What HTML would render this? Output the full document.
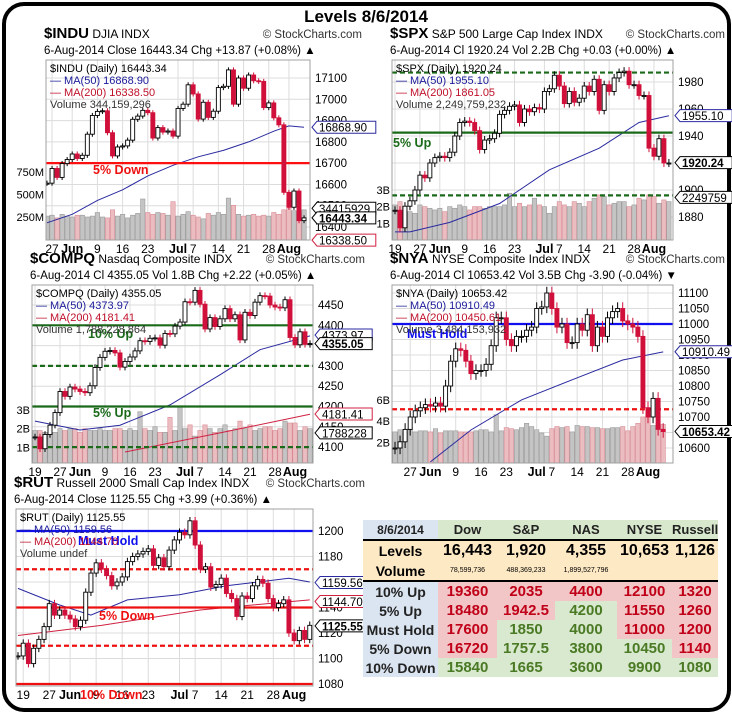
<!DOCTYPE html>
<html><head><meta charset="utf-8">
<style>
html,body{margin:0;padding:0;background:#fff;}
body{width:732px;height:714px;overflow:hidden;position:relative;font-family:"Liberation Sans",sans-serif;}
#frame{position:absolute;left:2px;top:2px;width:721px;height:702px;border:4px solid #000;border-radius:22px;}
#title{position:absolute;left:0;width:732px;top:7px;text-align:center;font-weight:bold;font-size:17px;}
svg{position:absolute;left:0;top:0;}
#tbl{position:absolute;left:363px;top:520px;width:355px;table-layout:fixed;border-collapse:collapse;font-weight:bold;font-family:"Liberation Sans",sans-serif;}
#tbl td{padding:0;text-align:center;font-size:14px;height:19px;overflow:hidden;white-space:nowrap;}
.lb{background:#dbe5f1;color:#222;}
.hd{background:#d8e8cc;color:#222;font-size:13px!important;}
.yl{background:#fde9c4;}
.lv{font-size:16px!important;}
.r{background:#f2c6c6;color:#c00018;font-size:15px!important;}
.g{background:#d9e9cf;color:#4a7a24;font-size:15px!important;}
</style></head><body>
<div id="frame"></div>
<div id="title">Levels 8/6/2014</div>
<svg id="sv" width="732" height="714"></svg>
<table id="tbl">
<colgroup><col style="width:75px"><col style="width:59px"><col style="width:58px"><col style="width:62px"><col style="width:55px"><col style="width:46px"></colgroup>
<tr><td class="lb" style="font-size:12px;height:16px">8/6/2014</td><td class="hd">Dow</td><td class="hd">S&amp;P</td><td class="hd">NAS</td><td class="hd">NYSE</td><td class="hd">Russell</td></tr>
<tr style="border-top:2px solid #000"><td class="yl" style="font-size:14px;height:20px">Levels</td><td class="yl lv">16,443</td><td class="yl lv">1,920</td><td class="yl lv">4,355</td><td class="yl lv">10,653</td><td class="yl lv">1,126</td></tr>
<tr style="border-bottom:2px solid #000"><td class="yl" style="font-size:14px;height:15px">Volume</td><td class="yl" style="font-size:7px;font-weight:normal">78,599,736</td><td class="yl" style="font-size:7px;font-weight:normal">488,369,233</td><td class="yl" style="font-size:7px;font-weight:normal">1,899,527,796</td><td class="yl"></td><td class="yl"></td></tr>
<tr><td class="lb">10% Up</td><td class="r">19360</td><td class="r">2035</td><td class="r">4400</td><td class="r">12100</td><td class="r">1320</td></tr>
<tr><td class="lb">5% Up</td><td class="r">18480</td><td class="r">1942.5</td><td class="g">4200</td><td class="r">11550</td><td class="r">1260</td></tr>
<tr><td class="lb">Must Hold</td><td class="r">17600</td><td class="g">1850</td><td class="g">4000</td><td class="r">11000</td><td class="r">1200</td></tr>
<tr><td class="lb">5% Down</td><td class="r">16720</td><td class="g">1757.5</td><td class="g">3800</td><td class="g">10450</td><td class="r">1140</td></tr>
<tr><td class="lb">10% Down</td><td class="g">15840</td><td class="g">1665</td><td class="g">3600</td><td class="g">9900</td><td class="g">1080</td></tr>
</table>
<script>
const dateLabels = ["19","27","Jun","9","16","23","Jul","7","14","21","28","Aug"];
const dateLabelIdx = [1,6,10,15,20,25,31,34,39,44,49,53];

const induClose = [16606,16675,16633,16698,16717,16743,16722,16737,16836,16924,16943,16946,16843,16734,16776,16781,16808,16906,16921,16948,16937,16818,16867,16846,16851,16827,16957,16977,17068,17025,16907,16986,16915,16944,17055,17061,17138,16977,17100,17052,17114,17087,17084,16961,16983,16913,16880,16563,16493,16569,16430,16443];
const induVol = [260,270,240,280,260,250,270,270,250,260,300,250,240,330,260,280,240,270,290,450,300,280,300,290,270,420,260,280,310,270,250,230,290,270,300,280,460,380,280,260,270,280,260,270,260,300,280,330,440,320,300,330];
const induMa = [16420,16460,16525,16575,16640,16690,16730,16760,16800,16850,16875,16869];
const induMaIdx = [0,5,10,15,20,25,30,35,40,45,48,51];

const spxClose = [1885,1872,1888,1892,1900,1911,1909,1920,1924,1925,1924,1928,1940,1950,1951,1950,1944,1930,1937,1938,1942,1956,1959,1962,1963,1950,1960,1958,1961,1960,1973,1975,1985,1977,1964,1973,1965,1968,1977,1973,1982,1959,1978,1973,1983,1987,1988,1978,1978,1970,1970,1931,1925,1938,1920,1920];
const spxVol = [2.1,2.3,1.9,1.7,1.6,2.1,2.0,1.9,1.8,1.9,1.7,2.0,1.9,2.1,2.0,1.8,2.0,2.0,1.9,2.0,2.0,2.0,2.1,2.8,2.0,2.2,2.0,2.1,2.5,2.1,2.0,1.6,2.0,2.3,2.1,2.0,2.3,2.2,2.0,2.3,2.5,2.7,2.6,2.1,2.2,2.3,2.3,2.0,2.1,2.5,2.4,2.7,2.6,2.2,2.4,2.3];
const spxMa = [1869,1869,1876,1890,1915,1931,1950,1955];
const spxMaIdx = [0,3,11,21,31,41,49,55];

const compClose = [4125,4096,4131,4154,4185,4237,4225,4248,4243,4237,4234,4251,4296,4321,4336,4338,4332,4297,4311,4322,4337,4362,4360,4368,4369,4351,4380,4379,4398,4408,4458,4457,4486,4452,4391,4419,4397,4416,4441,4416,4426,4364,4432,4424,4457,4473,4472,4450,4445,4443,4463,4370,4352,4384,4353,4355];
const compVol = [1.9,1.9,1.8,1.9,1.8,2.0,1.9,2.0,2.0,1.8,2.0,1.9,1.9,2.0,1.9,1.9,2.0,2.0,1.9,2.0,1.9,2.9,2.0,1.9,2.1,1.8,1.8,2.6,1.9,3.2,2.0,2.2,1.6,1.9,2.2,2.0,1.8,2.0,2.2,1.9,2.0,2.4,2.0,2.2,1.9,2.0,2.1,2.1,1.9,2.0,2.4,2.3,2.3,1.9,2.1,2.0];
const compMa = [4164,4142,4154,4204,4278,4340,4374];
const compMaIdx = [0,9,17,27,37,45,55];
const compMa2 = [4088,4135,4181];
const compMa2Idx = [18,37,55];

const nyaClose = [10600,10620,10660,10700,10720,10730,10740,10735,10745,10735,10800,10880,10920,10915,10880,10840,10850,10850,10870,10930,11020,11020,10950,10930,10960,10960,10980,10990,11050,11055,11100,11050,10990,11000,10940,10940,11000,10980,11030,10930,10990,10960,11020,11040,11050,11010,11000,10990,10960,10730,10700,10760,10660,10653];
const nyaVol = [3.0,3.2,2.9,3.4,3.0,3.1,3.1,3.0,3.3,2.9,3.1,3.1,3.1,3.0,3.0,3.0,3.1,3.2,3.2,3.0,4.6,3.1,3.4,3.3,3.2,3.4,3.8,3.5,3.2,2.9,2.6,3.3,3.5,3.4,3.5,3.0,3.6,3.5,3.5,3.4,3.4,3.3,3.3,3.4,3.4,3.5,3.1,3.5,3.8,4.4,4.6,3.6,3.8,3.7];
const nyaMa = [10555,10658,10755,10820,10884,10910];
const nyaMaIdx = [7,15,25,35,45,53];

const rutClose = [1102,1112,1096,1108,1115,1125,1143,1134,1138,1134,1131,1125,1130,1152,1167,1175,1170,1165,1157,1160,1164,1176,1180,1182,1184,1186,1173,1179,1172,1185,1193,1199,1197,1208,1189,1170,1172,1156,1158,1163,1151,1147,1133,1149,1147,1157,1162,1159,1147,1140,1143,1146,1120,1114,1122,1115,1126];
const rutMa = [1155,1142,1134,1146,1150,1157,1163,1160];
const rutMaIdx = [0,8,14,21,31,40,52,56];
const rutMa2 = [1118,1126,1138,1142,1146];
const rutMa2Idx = [0,16,35,45,56];

const NS="http://www.w3.org/2000/svg";
const sv=document.getElementById('sv');
function mk(tag,attrs,parent){const e=document.createElementNS(NS,tag);for(const k in attrs)e.setAttribute(k,attrs[k]);(parent||sv).appendChild(e);return e;}
function txt(x,y,s,attrs,parent){const e=mk('text',Object.assign({x:x,y:y,'font-family':'Liberation Sans, sans-serif','font-size':11,fill:'#000'},attrs||{}),parent);e.textContent=s;return e;}

function drawChart(c){
  const g=mk('g',{});
  
  
  const yv=v=>c.y0+(c.v0-v)*c.k;
  const xi=i=>c.x0+(i)*c.dx;
  const clipId='clip-'+c.name;
  const cp=mk('clipPath',{id:clipId},g);mk('rect',{x:c.L,y:c.T,width:c.R-c.L,height:c.B-c.T},cp);
  mk('rect',{x:c.L,y:c.T,width:c.R-c.L,height:c.B-c.T,fill:'#fff',stroke:'#b0b0b0'},g);
  const inner=mk('g',{'clip-path':'url(#'+clipId+')'},g);
  for(const t of c.ticks){const y=yv(t);mk('line',{x1:c.L,x2:c.R,y1:y,y2:y,stroke:'#dcdcdc'},inner);
    const tl=txt(c.R+5,y+4,String(t),{'font-size':11.5},g);
    }
  dateLabelIdx.forEach((di,j)=>{const i=di-c.start;if(i<-0.5)return;const x=xi(i);if(x>c.R)return;
    mk('line',{x1:x,x2:x,y1:c.T,y2:c.B,stroke:'#dcdcdc'},inner);
    const bold=isNaN(+dateLabels[j]);
    const dl=txt(x,c.B+13,dateLabels[j],{'font-size':bold?12.5:12,'font-weight':bold?'bold':'normal','text-anchor':'middle'},g);
    });
  if(c.vol){const vy=v=>c.vz-v*c.vk;
    c.vol.forEach((v,i)=>{const up=i==0||c.close[i]>=c.close[i-1];const x=xi(i);
      const b=mk('rect',{x:x-2.2,y:vy(v),width:4.4,height:c.vz-vy(v)+5,fill:up?'#c4c4c4':'#ebbcc0',stroke:up?'#9a9a9a':'#d88d96','stroke-width':0.6},inner);
      });
    c.volTicks.forEach((t,j)=>{const vt=txt(c.L-2,vy(t)+4,c.volTickLabels[j],{'font-size':11,'text-anchor':'end'},g);
      });
  }
  function ma(vals,idx,col){const pts=vals.map((v,j)=>xi(idx[j]).toFixed(1)+','+yv(v).toFixed(1)).join(' ');
    const p=mk('polyline',{points:pts,fill:'none',stroke:col,'stroke-width':1},inner);
    }
  if(c.ma)ma(c.ma,c.maIdx,'#2a2aa0');
  if(c.ma2)ma(c.ma2,c.ma2Idx,'#d02040');
  c.levels.forEach(l=>{const y=yv(l.v);const ln=mk('line',{x1:c.L,x2:c.R,y1:y,y2:y,stroke:l.c,'stroke-width':2.2,'stroke-dasharray':l.d?'5,3':'none'},inner);
    });
  c.close.forEach((cl,i)=>{const op=i==0?cl:c.close[i-1];const x=xi(i);
    const hi=Math.max(op,cl)+c.wick, lo=Math.min(op,cl)-c.wick;
    const down=cl<op;const col=down?'#d0103a':'#000';
    mk('line',{x1:x,x2:x,y1:yv(hi),y2:yv(lo),stroke:col,'stroke-width':1},inner);
    const top=yv(Math.max(op,cl)),h=Math.max(1,yv(Math.min(op,cl))-top);
    const r=mk('rect',{x:x-2,y:top,width:4,height:h,fill:down?'#d0103a':'#fff',stroke:col,'stroke-width':0.9},inner);
    });
  c.levelLabels.forEach(l=>{const t=txt(l.x,l.y,l.t,{'font-size':12.5,'font-weight':'bold',fill:l.c},g);
    });
  const h1=txt(c.L-2,c.T-22,c.sym,{'font-size':15,'font-weight':'bold'},g);
  
  const ts=mk('tspan',{'font-size':12,'font-weight':'normal'},h1);ts.textContent=' '+c.desc;
  const sc=txt(c.R+52,c.T-22,'© StockCharts.com',{'font-size':11.5,'text-anchor':'end',fill:'#333'},g);
  
  const h2=txt(c.L-2,c.T-6,c.line2,{'font-size':11.5},g);
  
  c.legend.forEach((l,j)=>{const t=txt(c.L+4,c.T+12+j*12,l.t,{'font-size':11,fill:l.c},g);
    });
  c.boxes.forEach(b=>{const y=yv(b.v);const w=b.t.length*6.6+6;
    mk('path',{d:`M${c.R+2},${y} l5,-6 h${w} v12 h-${w} z`,fill:'#fff',stroke:b.c,'stroke-width':1},g);
    const t=txt(c.R+9,y+4.5,b.t,{'font-size':11.5,'font-weight':b.b?'bold':'normal'},g);
    });
  mk('rect',{x:c.L,y:c.T,width:c.R-c.L,height:c.B-c.T,fill:'none',stroke:'#a0a0a0'},g);
}

drawChart({name:'indu',L:46,T:60,R:310,B:240,x0:47,dx:5.04,start:5,v0:17100,y0:78,k:0.2129,wick:12,
  close:induClose,vol:induVol,vz:239.5,vk:0.09,volTicks:[250,500,750],volTickLabels:['250M','500M','750M'],
  ma:induMa,maIdx:induMaIdx,ticks:[16400,16500,16600,16700,16800,16900,17000,17100],
  levels:[{v:16700,c:'#ff1010'}],levelLabels:[{x:93,y:174,t:'5% Down',c:'#ee1010'}],
  sym:'$INDU',desc:'DJIA  INDX',line2:'6-Aug-2014   Close 16443.34  Chg +13.87 (+0.08%) ▲',
  legend:[{t:'$INDU (Daily) 16443.34',c:'#000'},{t:'— MA(50) 16868.90',c:'#1a1a9a'},{t:'— MA(200) 16338.50',c:'#c0102a'},{t:'Volume 344,159,296',c:'#333'}],
  boxes:[{v:16868.9,t:'16868.90',c:'#2a2aa0'},{v:16488,t:'34415929',c:'#000'},{v:16443,t:'16443.34',c:'#000',b:1},{v:16338.5,t:'16338.50',c:'#d02040'}]});

drawChart({name:'spx',L:392,T:60,R:673,B:240,x0:395,dx:4.98,start:1,v0:1980,y0:82,k:1.35,wick:3,
  close:spxClose,vol:spxVol,vz:240,vk:16.7,volTicks:[1,2,3],volTickLabels:['1B','2B','3B'],
  ma:spxMa,maIdx:spxMaIdx,ticks:[1880,1900,1920,1940,1960,1980],
  levels:[{v:1987,c:'#1a6a1a',d:1},{v:1942.5,c:'#1a6a1a'},{v:1896,c:'#1a6a1a',d:1}],levelLabels:[{x:393,y:147,t:'5% Up',c:'#1a6a1a'}],
  sym:'$SPX',desc:'S&P 500 Large Cap Index  INDX',line2:'6-Aug-2014   Cl 1920.24  Vol 2.2B  Chg +0.03 (+0.00%) ▲',
  legend:[{t:'$SPX (Daily) 1920.24',c:'#000'},{t:'— MA(50) 1955.10',c:'#1a1a9a'},{t:'— MA(200) 1861.05',c:'#c0102a'},{t:'Volume 2,249,759,232',c:'#333'}],
  boxes:[{v:1955.1,t:'1955.10',c:'#2a2aa0'},{v:1920.24,t:'1920.24',c:'#000',b:1},{v:1894.5,t:'2249759',c:'#000'}]});

drawChart({name:'compq',L:32,T:285,R:313,B:463,x0:35,dx:5.0,start:1,v0:4450,y0:305,k:0.406,wick:8,
  close:compClose,vol:compVol,vz:466,vk:18.7,volTicks:[1,2,3],volTickLabels:['1B','2B','3B'],
  ma:compMa,maIdx:compMaIdx,ma2:compMa2,ma2Idx:compMa2Idx,ticks:[4100,4150,4200,4250,4300,4350,4400,4450],
  levels:[{v:4400,c:'#1a6a1a'},{v:4300,c:'#1a6a1a',d:1},{v:4200,c:'#1a6a1a'},{v:4100,c:'#1a6a1a',d:1}],
  levelLabels:[{x:88,y:338,t:'10% Up',c:'#1a6a1a'},{x:93,y:417,t:'5% Up',c:'#1a6a1a'}],
  sym:'$COMPQ',desc:'Nasdaq Composite  INDX',line2:'6-Aug-2014   Cl 4355.05  Vol 1.8B  Chg +2.22 (+0.05%) ▲',
  legend:[{t:'$COMPQ (Daily) 4355.05',c:'#000'},{t:'— MA(50) 4373.97',c:'#1a1a9a'},{t:'— MA(200) 4181.41',c:'#c0102a'},{t:'Volume 1,788,228,864',c:'#333'}],
  boxes:[{v:4376,t:'4373.97',c:'#2a2aa0'},{v:4355,t:'4355.05',c:'#000',b:1},{v:4181.4,t:'4181.41',c:'#d02040'},{v:4135,t:'1788228',c:'#000'}]});

drawChart({name:'nya',L:392,T:285,R:673,B:463,x0:395,dx:5.06,start:3,v0:11100,y0:293,k:0.31,wick:20,
  close:nyaClose,vol:nyaVol,vz:464,vk:10.7,volTicks:[2,4,6],volTickLabels:['2B','4B','6B'],
  ma:nyaMa,maIdx:nyaMaIdx,ticks:[10600,10650,10700,10750,10800,10850,10900,10950,11000,11050,11100],
  levels:[{v:11000,c:'#1010ee'},{v:10725,c:'#ee1010',d:1}],levelLabels:[{x:407,y:338,t:'Must Hold',c:'#1010ee'}],
  sym:'$NYA',desc:'NYSE Composite Index  INDX',line2:'6-Aug-2014  Cl 10653.42  Vol 3.5B  Chg -3.90 (-0.04%) ▼',
  legend:[{t:'$NYA (Daily) 10653.42',c:'#000'},{t:'— MA(50) 10910.49',c:'#1a1a9a'},{t:'— MA(200) 10450.61',c:'#c0102a'},{t:'Volume 3,484,153,932',c:'#333'}],
  boxes:[{v:10910.5,t:'10910.49',c:'#2a2aa0'},{v:10653.4,t:'10653.42',c:'#000',b:1}]});

drawChart({name:'rut',L:16,T:509,R:313,B:686,x0:18,dx:5.21,start:0,v0:1200,y0:531,k:1.275,wick:3,
  close:rutClose,ma:rutMa,maIdx:rutMaIdx,ma2:rutMa2,ma2Idx:rutMa2Idx,ticks:[1080,1100,1120,1140,1160,1180,1200],
  levels:[{v:1200,c:'#1010ee'},{v:1170,c:'#ee1010',d:1},{v:1140,c:'#ee1010'},{v:1110,c:'#ee1010',d:1},{v:1080,c:'#ee1010'}],
  levelLabels:[{x:78,y:545,t:'Must Hold',c:'#1010ee'},{x:99,y:620,t:'5% Down',c:'#ee1010'},{x:80,y:699,t:'10% Down',c:'#ee1010'}],
  sym:'$RUT',desc:'Russell 2000 Small Cap Index  INDX',line2:'6-Aug-2014                    Close 1125.55  Chg +3.99 (+0.36%) ▲',
  legend:[{t:'$RUT (Daily) 1125.55',c:'#000'},{t:'— MA(50) 1159.56',c:'#1a1a9a'},{t:'— MA(200) 1144.70',c:'#c0102a'},{t:'Volume undef',c:'#333'}],
  boxes:[{v:1159.56,t:'1159.56',c:'#2a2aa0'},{v:1144.7,t:'1144.70',c:'#d02040'},{v:1125.55,t:'1125.55',c:'#000',b:1}]});
</script>
</body></html>
